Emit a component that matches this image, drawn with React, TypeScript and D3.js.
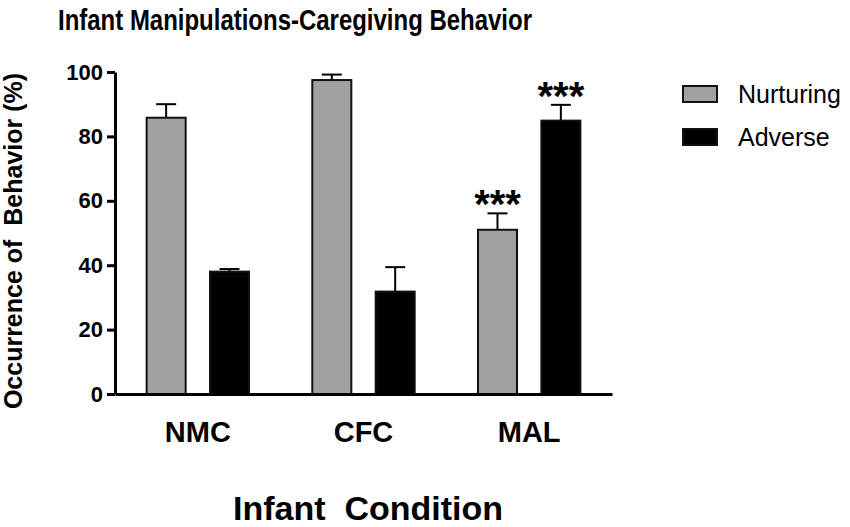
import React, { useEffect, useRef } from 'react';
import * as d3 from 'd3';

const categories = ['NMC', 'CFC', 'MAL'];
const seriesNames = ['Nurturing', 'Adverse'];
const nurturing = [85.8, 97.5, 51.0];
const nurturingErr = [4.2, 1.7, 5.1];
const adverse = [38.0, 31.8, 84.9];
const adverseErr = [0.8, 7.6, 4.9];
const significance = [['', ''], ['', ''], ['***', '***']];
const yTicks = [0, 20, 40, 60, 80, 100];

const width = 850;
const height = 527;

export default function App() {
  const svgRef = useRef<SVGSVGElement>(null);

  useEffect(() => {
    if (!svgRef.current) return;
    const svg = d3.select(svgRef.current);
    svg.selectAll('*').remove();

    const colors = { gray: '#a1a1a5', black: '#000000', text: '#000000' };
    const font = 'Liberation Sans, Arial, sans-serif';
    const plot = { left: 115, right: 612, top: 72, bottom: 394 };

    const x0 = d3.scaleBand<string>().domain(categories).range([plot.left, plot.right]).paddingInner(0.37).paddingOuter(0.185);
    const x1 = d3.scaleBand<string>().domain(seriesNames).range([0, x0.bandwidth()]).paddingInner(0.353).paddingOuter(0);
    const y = d3.scaleLinear().domain([0, 100]).range([plot.bottom, plot.top]);

    const rows = categories.flatMap((c, i) => [
      { cat: c, key: 'Nurturing', value: nurturing[i], err: nurturingErr[i], sig: significance[i][0], fill: colors.gray },
      { cat: c, key: 'Adverse', value: adverse[i], err: adverseErr[i], sig: significance[i][1], fill: colors.black },
    ]);

    // title
    svg.append('text').attr('x', 58).attr('y', 30)
      .attr('textLength', 474).attr('lengthAdjust', 'spacingAndGlyphs')
      .style('font-family', font).style('font-weight', 'bold').style('font-size', '29px')
      .attr('fill', colors.text).text('Infant Manipulations-Caregiving Behavior');

    // error bars (drawn before bars so the bar covers the stem bottom)
    const eb = svg.append('g').attr('stroke', colors.black).attr('stroke-width', 2);
    rows.forEach(d => {
      const cx = (x0(d.cat) as number) + (x1(d.key) as number) + x1.bandwidth() / 2;
      eb.append('line').attr('x1', cx).attr('x2', cx).attr('y1', y(d.value)).attr('y2', y(d.value + d.err));
      eb.append('line').attr('x1', cx - 10).attr('x2', cx + 10).attr('y1', y(d.value + d.err)).attr('y2', y(d.value + d.err));
    });

    // bars
    svg.append('g').selectAll('rect').data(rows).enter().append('rect')
      .attr('x', d => (x0(d.cat) as number) + (x1(d.key) as number) + 1)
      .attr('y', d => y(d.value))
      .attr('width', x1.bandwidth() - 2)
      .attr('height', d => y(0) - y(d.value))
      .attr('fill', d => d.fill)
      .attr('stroke', '#111')
      .attr('stroke-width', 2);

    // significance stars
    svg.append('g').selectAll('text').data(rows.filter(d => d.sig)).enter().append('text')
      .attr('x', d => (x0(d.cat) as number) + (x1(d.key) as number) + x1.bandwidth() / 2)
      .attr('y', d => y(d.value + d.err) + 5)
      .attr('text-anchor', 'middle')
      .style('font-family', font).style('font-weight', 'bold').style('font-size', '40px')
      .attr('fill', colors.text).text(d => d.sig);

    // y axis
    const yAxis = svg.append('g').attr('transform', `translate(${plot.left},0)`)
      .call(d3.axisLeft(y).tickValues(yTicks).tickSize(8).tickSizeOuter(0).tickPadding(4));
    yAxis.select('.domain').attr('stroke', colors.black).attr('stroke-width', 3);
    yAxis.selectAll('.tick line').attr('stroke', colors.black).attr('stroke-width', 3);
    yAxis.selectAll('.tick text').attr('fill', colors.text)
      .style('font-family', font).style('font-weight', 'bold').style('font-size', '22px');

    // x axis
    const xAxis = svg.append('g').attr('transform', `translate(0,${plot.bottom})`)
      .call(d3.axisBottom(x0).tickSize(0).tickSizeOuter(0).tickPadding(27));
    xAxis.select('.domain').attr('stroke', colors.black).attr('stroke-width', 3);
    xAxis.selectAll('.tick text').attr('fill', colors.text)
      .style('font-family', font).style('font-weight', 'bold').style('font-size', '29px');

    // axis titles
    svg.append('text').attr('x', 368).attr('y', 520).attr('text-anchor', 'middle')
      .style('font-family', font).style('font-weight', 'bold').style('font-size', '34px')
      .style('white-space', 'pre').attr('fill', colors.text).text('Infant  Condition');
    svg.append('text').attr('transform', 'translate(22,241) rotate(-90)').attr('text-anchor', 'middle')
      .style('font-family', font).style('font-weight', 'bold').style('font-size', '25px')
      .style('white-space', 'pre').attr('fill', colors.text).text('Occurrence of  Behavior (%)');

    // legend
    const legend = svg.append('g').attr('transform', 'translate(683,86)');
    seriesNames.forEach((name, i) => {
      const g = legend.append('g').attr('transform', `translate(0,${i * 43})`);
      g.append('rect').attr('width', 34).attr('height', 16)
        .attr('fill', i === 0 ? colors.gray : colors.black).attr('stroke', '#111').attr('stroke-width', 2);
      g.append('text').attr('x', 55).attr('y', 17)
        .style('font-family', font).style('font-size', '25px').attr('fill', colors.text).text(name);
    });
  }, []);

  return (
    <svg ref={svgRef} width={width} height={height} viewBox={`0 0 ${width} ${height}`}
      style={{ position: 'absolute', left: 0, top: 0, background: '#fff' }} />
  );
}
